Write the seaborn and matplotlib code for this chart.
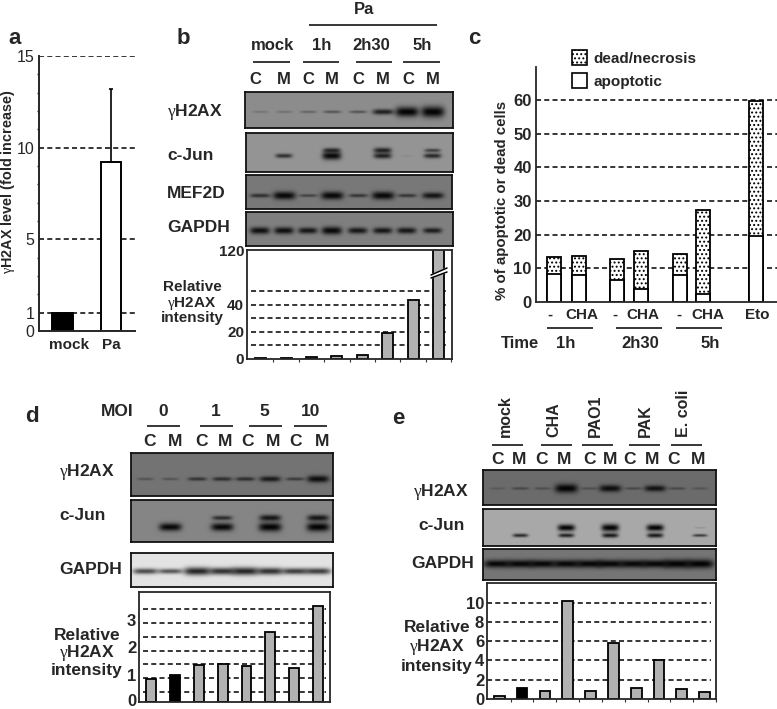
import numpy as np
import matplotlib
matplotlib.use("Agg")
import matplotlib.pyplot as plt
from matplotlib.patches import Patch
from matplotlib.transforms import ScaledTranslation
import seaborn as sns

sns.set_style("ticks")
plt.rcParams["font.family"] = ["Liberation Sans", "DejaVu Sans"]
plt.rcParams["mathtext.fontset"] = "custom"
plt.rcParams["mathtext.it"] = "Liberation Serif"
plt.rcParams["mathtext.rm"] = "Liberation Serif"
plt.rcParams["hatch.linewidth"] = 0.9

W, H = 777, 709
GAMMA = r"$\gamma$H2AX"
DASH = (0, (3.3, 2.1))
GREY = "#b2b2b2"

# panel a
a_labels = ["mock", "Pa"]
a_values = [1, 9.2]
a_err = 4.0
a_ticks = [0, 1, 5, 10, 15]

# panel b
b_lanes = ["mock C", "mock M", "1h C", "1h M", "2h30 C", "2h30 M", "5h C", "5h M"]
b_values = [0.7, 0.7, 1.8, 2.2, 3.2, 19.5, 43.5, 120]
b_grid = [10, 20, 30, 40, 50]
b_hx = [0.15, 0.17, 0.25, 0.35, 0.35, 0.7, 0.95, 1.0]
b_jun_up = [0, 0, 0, 0.65, 0, 0.7, 0, 0.5]
b_jun_low = [0, 0.6, 0, 0.85, 0, 0.7, 0.05, 0.65]
b_mef = [0.55, 0.85, 0.4, 0.85, 0.5, 0.85, 0.5, 0.75]
b_gapdh = [0.8, 0.8, 0.75, 0.85, 0.75, 0.75, 0.75, 0.7]

# panel c
c_total = [13.5, 13.8, 12.8, 15, 14.2, 27.2, 59.8]
c_apoptotic = [8.3, 8, 6.5, 3.8, 8, 2.4, 19.5]
c_ticks = [0, 10, 20, 30, 40, 50, 60]

# panel d
d_lanes = ["0 C", "0 M", "1 C", "1 M", "5 C", "5 M", "10 C", "10 M"]
d_values = [0.84, 1.0, 1.34, 1.39, 1.3, 2.55, 1.24, 3.51]
d_grid = [0.37, 0.88, 1.39, 1.88, 2.39, 2.88, 3.4]
d_hx = [0.25, 0.25, 0.5, 0.55, 0.55, 0.7, 0.45, 0.8]
d_jun_up = [0, 0, 0, 0.6, 0, 0.75, 0, 0.75]
d_jun_low = [0, 0.85, 0, 0.85, 0, 0.9, 0, 0.9]
d_gapdh = [0.6, 0.55, 0.75, 0.7, 0.75, 0.7, 0.65, 0.65]

# panel e
e_lanes = ["mock C", "mock M", "CHA C", "CHA M", "PAO1 C", "PAO1 M", "PAK C", "PAK M", "E. coli C", "E. coli M"]
e_values = [0.3, 1.1, 0.8, 10.2, 0.85, 5.8, 1.15, 4.05, 1.05, 0.7]
e_ticks = [0, 2, 4, 6, 8, 10]
e_hx = [0.15, 0.3, 0.25, 0.9, 0.25, 0.8, 0.3, 0.75, 0.3, 0.2]
e_jun_up = [0, 0, 0, 0.9, 0, 0.95, 0, 0.9, 0, 0.1]
e_jun_low = [0, 0.65, 0, 0.7, 0, 0.75, 0, 0.75, 0, 0.55]
e_gapdh = [0.85, 0.85, 0.85, 0.85, 0.85, 0.85, 0.85, 0.85, 0.9, 0.9]

fig = plt.figure(figsize=(W / 100, H / 100), dpi=100)


def px_axes(x0, y0, x1, y1, **kw):
    return fig.add_axes([x0 / W, 1 - y1 / H, (x1 - x0) / W, (y1 - y0) / H], **kw)


ov = px_axes(0, 0, W, H, zorder=20)
ov.set_xlim(0, W)
ov.set_ylim(H, 0)
ov.axis("off")


def txt(x, y, s, size=11, ha="center", rot=0, weight="bold", va="center"):
    ov.text(x, y, s, fontsize=size, ha=ha, va=va, rotation=rot, fontweight=weight)


def rule(x0, x1, y, lw=1.1):
    ov.plot([x0, x1], [y, y], color="k", lw=lw, solid_capstyle="butt")


def blot(rect, lane_x, rows, bg, wide=1.0, thick=1.0):
    x0, y0, x1, y1 = rect
    ax = px_axes(x0, y0, x1, y1)
    w, h = int(x1 - x0) * 2, int(y1 - y0) * 2
    xx = np.linspace(x0, x1, w)
    yy = np.linspace(0, 1, h)
    img = np.full((h, w), float(bg))
    for band_y, strengths in rows:
        for cx, s in zip(lane_x, strengths):
            if s <= 0:
                continue
            sx = (7 + 5 * s) * wide
            sy = (1.3 + 4.4 * s ** 3) * thick / (y1 - y0)
            band = np.exp(-((xx - cx) / sx) ** 4)[None, :] * np.exp(-((yy - band_y) / sy) ** 2)[:, None]
            img *= 1 - min(s * 1.1, 0.97) * band
    sns.heatmap(img, ax=ax, cmap="gray", vmin=0, vmax=1, cbar=False, xticklabels=False, yticklabels=False)
    for sp in ax.spines.values():
        sp.set_visible(True)
        sp.set_linewidth(1.3)
        sp.set_color("#111111")
    return ax


def lane_bars(rect, lanes, values, colors, width, first, step, ticks, grid, labels=None, size=11, inset=0.02):
    x0, y0, x1, y1 = rect
    ax = px_axes(x0, y0, x1, y1)
    sns.barplot(x=lanes, y=values, hue=lanes, palette=colors, legend=False, saturation=1,
                width=width, edgecolor="k", linewidth=1.3, ax=ax)
    ax.set_xlim((x0 - first) / step, (x1 - first) / step)
    for g in grid:
        ax.axhline(g, inset, 0.98, color="k", lw=1.1, ls=DASH, zorder=0.5)
    ax.set_xticks(np.arange(len(lanes)) + 0.5)
    ax.set_xticklabels([])
    ax.set_xlabel("")
    ax.tick_params(axis="x", length=1.8, width=0.8, color="#333333")
    ax.set_yticks(ticks)
    ax.set_yticklabels(labels if labels else ticks, fontsize=size, fontweight="bold")
    ax.tick_params(axis="y", length=0, pad=2)
    for sp in ax.spines.values():
        sp.set_linewidth(1.3)
    return ax


# a
ax = px_axes(38.5, 56, 135, 331)
sns.barplot(x=a_labels, y=a_values, hue=a_labels, palette=["k", "w"], legend=False, saturation=1,
            width=0.42, edgecolor="k", linewidth=1.4, ax=ax)
ax.errorbar(1, a_values[1], yerr=[[0], [a_err]], color="k", lw=1.2, capsize=1.5, capthick=1.2, zorder=3)
for g in a_ticks[1:]:
    ax.axhline(g, color="k", lw=1.1, ls=DASH, zorder=0.5)
ax.set_xlim(-0.495, 1.495)
ax.set_ylim(0, 15)
ax.set_yticks(a_ticks)
ax.set_yticks(range(16), minor=True)
ax.set_yticklabels(a_ticks, fontsize=11.5)
ax.tick_params(axis="y", which="major", length=0, pad=3)
ax.tick_params(axis="y", which="minor", length=1.5, width=1)
ax.set_xticks([])
ax.set_xlabel("")
sns.despine(ax=ax)
ax.spines["left"].set_linewidth(1.4)
ax.spines["bottom"].set_linewidth(1.4)
ax.patch.set_alpha(0)
txt(69, 345, "mock", 11)
txt(111, 345, "Pa", 11)
txt(8, 182, GAMMA + " level (fold increase)", 10.4, rot=90)
txt(15, 38, "a", 16)

# b
txt(183, 38, "b", 16)
b_x = [260, 284, 308, 332, 358, 383, 407, 433]
blot((245, 92, 453, 128), b_x, [(0.56, b_hx)], 0.55)
blot((246, 133, 453, 172), b_x, [(0.44, b_jun_up), (0.58, b_jun_low)], 0.58, wide=0.85)
blot((246, 175, 452, 209), b_x, [(0.6, b_mef)], 0.47)
blot((246, 212, 453, 246), b_x, [(0.54, b_gapdh)], 0.5, wide=0.9)
ax = lane_bars((247, 250, 452, 359), b_lanes, b_values, [GREY] * 8, 0.43, 260.7, 25.4,
               [0, 20, 40, 80.7], b_grid, ["0", "20", "40", "120"])
ax.set_ylim(0, 80.7)
txt(364, 10, "Pa", 12)
rule(309, 437, 25)
for x, s in zip([272, 322, 371, 422], ["mock", "1h", "2h30", "5h"]):
    txt(x, 45, s, 12)
for a0, a1 in [(253, 290), (303, 339), (356, 392), (403, 440)]:
    rule(a0, a1, 62)
for x, s in zip([255, 284, 308, 332, 358, 383, 408, 433], "CMCMCMCM"):
    txt(x, 79, s, 12)
for y, s in zip([112, 156, 193, 227], [GAMMA, "c-Jun", "MEF2D", "GAPDH"]):
    txt(167, y, s, 12.5, ha="left")
for y, s in zip([287, 303, 318], ["Relative", GAMMA, "intensity"]):
    txt(192, y, s, 11)
ov.fill([431, 447, 447, 431], [275, 268, 272, 278], color="w", zorder=5)
ov.plot([431, 447], [275, 268], color="k", lw=1.1, zorder=6)
ov.plot([431, 447], [278, 272], color="k", lw=1.1, zorder=6)

# c
txt(474, 38, "c", 16)
c_x = [554, 579, 617, 641, 680, 703, 756]
ax = px_axes(536, 67, W, 302)
sns.barplot(x=c_x, y=c_total, native_scale=True, color="w", saturation=1, width=0.6,
            edgecolor="k", linewidth=1.3, hatch="....", ax=ax)
sns.barplot(x=c_x, y=c_apoptotic, native_scale=True, color="w", saturation=1, width=0.6,
            edgecolor="k", linewidth=1.3, ax=ax)
for g in c_ticks[1:]:
    ax.axhline(g, color="k", lw=1.1, ls=DASH, zorder=0.5)
ax.set_xlim(536, W)
ax.set_ylim(0, 69.8)
ax.set_xticks([])
ax.set_xlabel("")
ax.set_yticks(c_ticks)
ax.set_yticklabels(c_ticks, fontsize=12, fontweight="bold")
ax.tick_params(axis="y", length=0, pad=3)
sns.despine(ax=ax)
ax.spines["left"].set_linewidth(1.3)
ax.spines["bottom"].set_linewidth(1.3)
ax.patch.set_alpha(0)
ax.legend(handles=[Patch(facecolor="w", edgecolor="k", hatch="....", lw=1.2, label="dead/necrosis"),
                   Patch(facecolor="w", edgecolor="k", lw=1.2, label="apoptotic")],
          loc="upper left", bbox_to_anchor=(572 / W, 1 - 50 / H), bbox_transform=fig.transFigure,
          frameon=False, handlelength=1.0, handleheight=1.1, handletextpad=0.4, borderpad=0, borderaxespad=0,
          labelspacing=0.5, prop={"size": 11, "weight": "bold"})
txt(502, 200, "% of apoptotic or dead cells", 10.8, rot=90)
for x, s in zip([550, 582, 615, 643, 679, 708, 757], ["-", "CHA", "-", "CHA", "-", "CHA", "Eto"]):
    txt(x, 315, s, 11)
for a0, a1 in [(547, 593), (616, 662), (676, 722)]:
    rule(a0, a1, 328)
for x, s in zip([520, 566, 640, 710], ["Time", "1h", "2h30", "5h"]):
    txt(x, 343, s, 12)

# d
txt(32, 417, "d", 16)
d_x = [145, 170, 197, 222, 245, 270, 295, 318]
blot((131, 453, 333, 496), d_x, [(0.6, d_hx)], 0.45)
blot((131, 500, 333, 542), d_x, [(0.42, d_jun_up), (0.64, d_jun_low)], 0.52)
blot((131, 553, 333, 587), d_x, [(0.53, d_gapdh)], 0.89, wide=1.25, thick=1.3)
ax = lane_bars((139, 592, 330, 702), d_lanes, d_values, [GREY, "k"] + [GREY] * 6, 0.42, 151.3, 23.8,
               [0, 1, 2, 3], d_grid, size=12)
ax.set_ylim(0, 4.02)
ax.tick_params(axis="x", length=0)
zero = ax.get_yticklabels()[0]
zero.set_transform(zero.get_transform() + ScaledTranslation(0, 2 / 100, fig.dpi_scale_trans))
txt(117, 412, "MOI", 12.5)
for x, s in zip([163, 216, 264, 311], ["0", "1", "5", "10"]):
    txt(x, 412, s, 12.5)
for a0, a1 in [(147, 180), (200, 233), (249, 282), (294, 327)]:
    rule(a0, a1, 426)
for x, s in zip([149, 175, 202, 225, 248, 273, 296, 322], "CMCMCMCM"):
    txt(x, 441, s, 12.5)
for y, s in zip([472, 515, 570], [GAMMA, "c-Jun", "GAPDH"]):
    txt(59, y, s, 12.5, ha="left")
for y, s in zip([635, 653, 671], ["Relative", GAMMA, "intensity"]):
    txt(87, y, s, 12.5)

# e
txt(398, 418, "e", 16)
e_x = [497, 520, 542, 566, 589, 610, 633, 655, 677, 700]
blot((483, 470, 716, 505), e_x, [(0.52, e_hx)], 0.42)
blot((483, 509, 716, 546), e_x, [(0.5, e_jun_up), (0.71, e_jun_low)], 0.66, wide=0.75, thick=0.75)
blot((483, 549, 716, 580), e_x, [(0.47, e_gapdh)], 0.46, wide=1.2, thick=1.0)
ax = lane_bars((487, 583, 716, 699), e_lanes, e_values, [GREY, "k"] + [GREY] * 8, 0.47, 499.3, 22.9,
               e_ticks, e_ticks[1:], size=12, inset=0)
ax.set_ylim(0, 12.05)
for x, s in zip([505, 554, 595, 645, 683], ["mock", "CHA", "PAO1", "PAK", "E. coli"]):
    txt(x, 437, s, 11.5, rot=90, va="bottom")
for a0, a1 in [(492, 523), (541, 572), (582, 613), (629, 660), (671, 702)]:
    rule(a0, a1, 445)
for x, s in zip([497, 519, 542, 564, 589, 610, 630, 652, 674, 698], "CMCMCMCMCM"):
    txt(x, 459, s, 12.5)
for x, y, s in zip([469, 465, 474], [492, 526, 563], [GAMMA, "c-Jun", "GAPDH"]):
    txt(x, y, s, 12.5, ha="right")
for y, s in zip([628, 647, 666], ["Relative", GAMMA, "intensity"]):
    txt(437, y, s, 12.5)

fig.savefig("out.png", dpi=100)
